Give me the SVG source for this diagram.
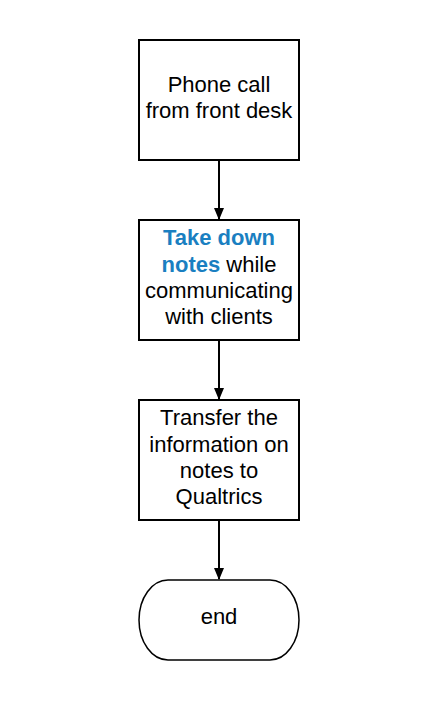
<svg xmlns="http://www.w3.org/2000/svg" width="436" height="720" viewBox="0 0 436 720">
<style>
.box{fill:#fff;stroke:#000;stroke-width:2}
.term{fill:#fff;stroke:#000;stroke-width:1.5}
.t{font-family:"Liberation Sans",Arial,sans-serif;font-size:22px;fill:#000;text-anchor:middle}
.hl{fill:#1a7fc1;font-weight:bold}
.conn{stroke:#000;stroke-width:2;fill:none;marker-end:url(#ah)}
</style>
<defs>
<marker id="ah" markerWidth="12" markerHeight="10" refX="11" refY="5" orient="auto" markerUnits="userSpaceOnUse">
<path d="M0,0 L12,5 L0,10 Z" fill="#000"/>
</marker>
</defs>
<rect width="436" height="720" fill="#fff"/>
<g id="connectors">
<line class="conn" x1="219" y1="160" x2="219" y2="219"/>
<line class="conn" x1="219" y1="340" x2="219" y2="399"/>
<line class="conn" x1="219" y1="520" x2="219" y2="579"/>
</g>
<g id="n1">
<rect class="box" x="139" y="40" width="160" height="120"/>
<text class="t" x="219" y="92">Phone call</text>
<text class="t" x="219" y="118">from front desk</text>
</g>
<g id="n2">
<rect class="box" x="139" y="220" width="160" height="120"/>
<text class="t" x="219" y="245"><tspan class="hl">Take down</tspan></text>
<text class="t" x="219" y="271.5"><tspan class="hl">notes</tspan> while</text>
<text class="t" x="219" y="298">communicating</text>
<text class="t" x="219" y="324">with clients</text>
</g>
<g id="n3">
<rect class="box" x="139" y="400" width="160" height="120"/>
<text class="t" x="219" y="425">Transfer the</text>
<text class="t" x="219" y="451.5">information on</text>
<text class="t" x="219" y="478">notes to</text>
<text class="t" x="219" y="504">Qualtrics</text>
</g>
<g id="end">
<rect class="term" x="139" y="580" width="160" height="80" rx="29" ry="40"/>
<text class="t" x="219" y="624">end</text>
</g>
</svg>
